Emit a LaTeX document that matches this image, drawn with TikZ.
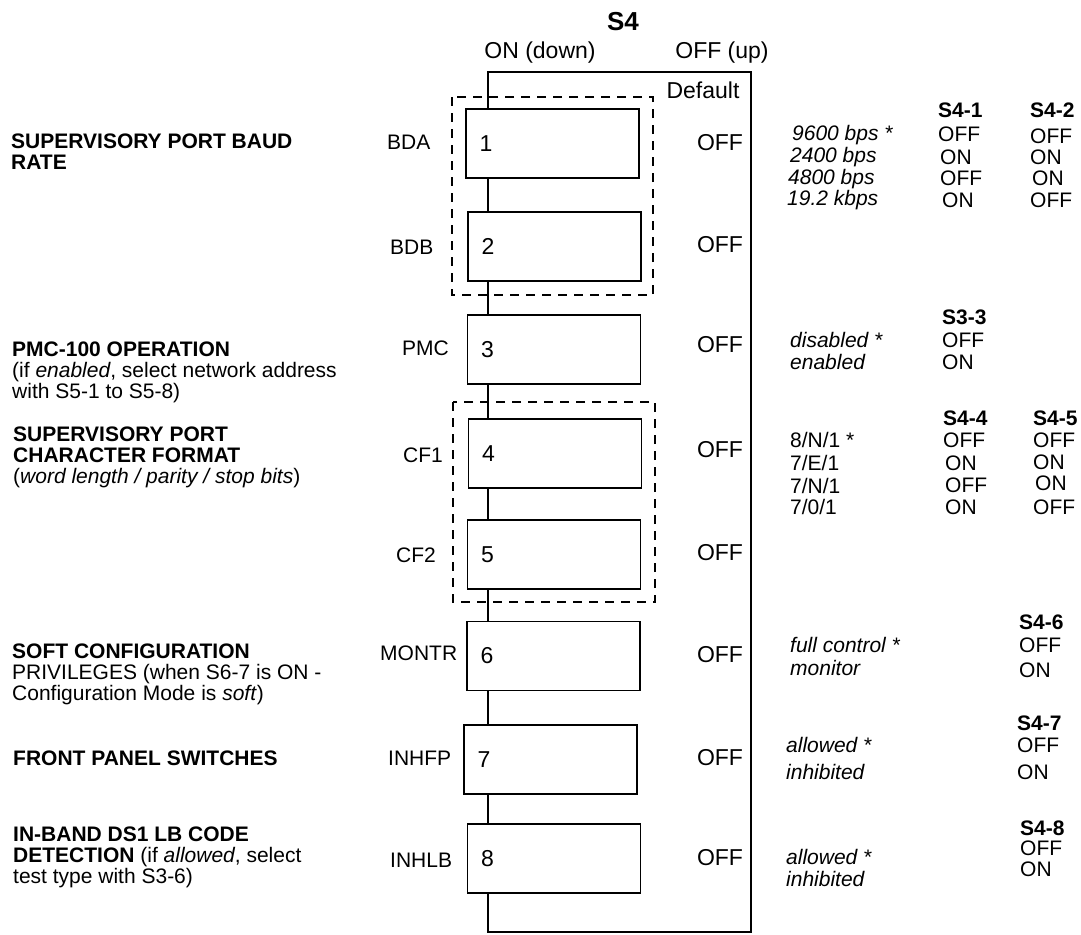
\documentclass[tikz,border=0pt]{standalone}
\usepackage{fontspec}
\setmainfont{Liberation Sans}
\newcommand\myfs[2]{\fontsize{#1}{#2}\selectfont}
\begin{document}
\begin{tikzpicture}[x=1pt,y=-1pt,
  every node/.style={inner sep=0pt},
  wire/.style={line width=1.2pt},
  grp/.style={line width=1.2pt, dash pattern=on 9pt off 7pt},
  swbox/.style={draw, line width=1.2pt, fill=white, minimum width=173pt, minimum height=69pt},
  num/.style={font=\myfs{23}{23}, anchor=west},
  mid/.style={font=\myfs{23}{23}},
  sig/.style={font=\myfs{21}{21}, anchor=west},
  desc/.style={font=\myfs{21}{21}, anchor=west, align=left},
  tab/.style={font=\myfs{21}{21}, anchor=west},
  tabh/.style={font=\myfs{21}{21}\bfseries, anchor=west},
  opt/.style={font=\myfs{21}{21}\itshape, anchor=west}]
\useasboundingbox (0,0) rectangle (1081,934);

% header
\node[font=\myfs{26}{26}\bfseries] (title) at (623,22) {S4};
\node[mid] (on) at (540,53) {ON (down)};
\node[mid] (offup) at (722,53) {OFF (up)};
\node[mid] (def) at (703,90) {Default};

% frame corners
\coordinate (tl) at (488,72);
\coordinate (tr) at (751,72);
\coordinate (br) at (751,932);
\coordinate (bl) at (488,932);

% group outlines
\draw[grp] (452,97) rectangle (653,295);
\draw[grp] (453,402) rectangle (655,602);

% switches
\node[swbox] (b1) at (552.5,143.5) {};
\node[swbox] (b2) at (554.5,246.5) {};
\node[swbox] (b3) at (554,349.5) {};
\node[swbox] (b4) at (555,453.5) {};
\node[swbox] (b5) at (554,554.5) {};
\node[swbox] (b6) at (553.5,656) {};
\node[swbox] (b7) at (550.5,759.5) {};
\node[swbox] (b8) at (554,858.5) {};
\foreach \i in {1,...,8} \node[num] (n\i) at ([xshift=14pt]b\i.west) {\i};

% spine and frame
\draw[wire] (b1.north -| tl) -- (tl) -- (tr) -- (br) -- (bl) -- (b8.south -| bl);
\foreach \a/\b in {b1/b2,b2/b3,b3/b4,b4/b5,b5/b6,b6/b7,b7/b8}
  \draw[wire] (\a.south -| tl) -- (\b.north -| tl);

% default values
\foreach \i/\y in {1/143,2/245,3/345,4/450,5/553,6/655,7/758,8/858}
  \node[mid] (d\i) at (720,\y) {OFF};

% signal names
\node[sig] (s1) at (387,142) {BDA};
\node[sig] (s2) at (390,247) {BDB};
\node[sig] (s3) at (402,348) {PMC};
\node[sig] (s4) at (403,455) {CF1};
\node[sig] (s5) at (396,555) {CF2};
\node[sig] (s6) at (380,653) {MONTR};
\node[sig] (s7) at (388,758) {INHFP};
\node[sig] (s8) at (390,860) {INHLB};

% descriptions
\node[desc] (t1) at (11,152) {\bfseries SUPERVISORY PORT BAUD\\\bfseries RATE};
\node[desc] (t3) at (12,372) {\bfseries PMC-100 OPERATION\\(if \textit{enabled}, select network address\\with S5-1 to S5-8)};
\node[desc] (t4) at (13,457) {\bfseries SUPERVISORY PORT\\\bfseries CHARACTER FORMAT\\(\textit{word length / parity / stop bits})};
\node[desc] (t6) at (12,674) {\bfseries SOFT CONFIGURATION\\PRIVILEGES (when S6-7 is ON -\\Configuration Mode is \textit{soft})};
\node[desc] (t7) at (13,758) {\bfseries FRONT PANEL SWITCHES};
\node[desc] (t8) at (13,857) {\bfseries IN-BAND DS1 LB CODE\\\textbf{DETECTION} (if \textit{allowed}, select\\test type with S3-6)};

% table S4-1 / S4-2
\node[tabh] at (938,110) {S4-1};
\node[tabh] at (1030,110) {S4-2};
\node[opt] at (792,135) {9600 bps *};
\node[opt] at (790,157) {2400 bps};
\node[opt] at (788,179) {4800 bps};
\node[opt] at (787,200) {19.2 kbps};
\node[tab] at (938,134) {OFF};
\node[tab] at (940,157) {ON};
\node[tab] at (940,178) {OFF};
\node[tab] at (942,200) {ON};
\node[tab] at (1030,136) {OFF};
\node[tab] at (1030,157) {ON};
\node[tab] at (1032,178) {ON};
\node[tab] at (1030,200) {OFF};

% table S3-3
\node[tabh] at (942,317) {S3-3};
\node[opt] at (790,340) {disabled *};
\node[opt] at (790,362) {enabled};
\node[tab] at (942,340) {OFF};
\node[tab] at (942,362) {ON};

% table S4-4 / S4-5
\node[tabh] at (943,418) {S4-4};
\node[tabh] at (1033,418) {S4-5};
\node[tab] at (790,440) {8/N/1 *};
\node[tab] at (790,463) {7/E/1};
\node[tab] at (790,486) {7/N/1};
\node[tab] at (790,507) {7/0/1};
\node[tab] at (943,440) {OFF};
\node[tab] at (945,463) {ON};
\node[tab] at (945,485) {OFF};
\node[tab] at (945,507) {ON};
\node[tab] at (1033,440) {OFF};
\node[tab] at (1033,462) {ON};
\node[tab] at (1035,483) {ON};
\node[tab] at (1033,507) {OFF};

% table S4-6
\node[tabh] at (1019,622) {S4-6};
\node[opt] at (790,645) {full control *};
\node[opt] at (790,668) {monitor};
\node[tab] at (1019,645) {OFF};
\node[tab] at (1019,670) {ON};

% table S4-7
\node[tabh] at (1017,723) {S4-7};
\node[opt] at (786,745) {allowed *};
\node[opt] at (786,772) {inhibited};
\node[tab] at (1017,745) {OFF};
\node[tab] at (1017,772) {ON};

% table S4-8
\node[tabh] at (1020,828) {S4-8};
\node[opt] at (786,857) {allowed *};
\node[opt] at (786,879) {inhibited};
\node[tab] at (1020,848) {OFF};
\node[tab] at (1020,869) {ON};
\end{tikzpicture}
\end{document}
